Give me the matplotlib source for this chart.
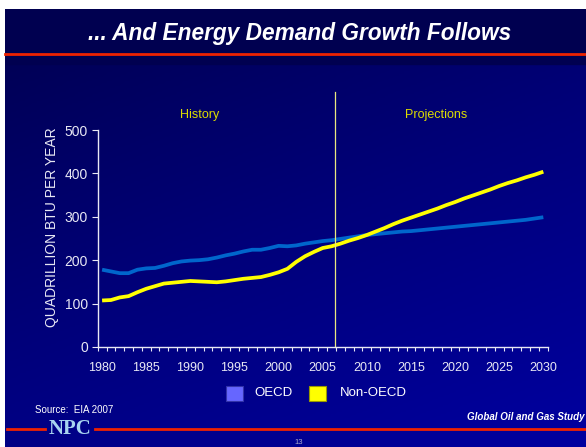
import numpy as np
import matplotlib.pyplot as plt
from matplotlib.colors import LinearSegmentedColormap
from matplotlib.patches import Rectangle

plt.rcParams['font.family'] = ['Liberation Sans', 'DejaVu Sans']

years = list(range(1980, 2031))
oecd = [178, 174, 170, 170, 178, 181, 182, 187, 193, 197,
        199, 200, 202, 206, 211, 215, 220, 224, 224, 228,
        233, 232, 234, 238, 241, 244, 246, 249, 252, 255,
        258, 260, 262, 264, 266, 267, 269, 271, 273, 275,
        277, 279, 281, 283, 285, 287, 289, 291, 293, 296,
        299]
non_oecd = [107, 108, 114, 117, 126, 134, 140, 146, 148, 150,
            152, 151, 150, 149, 151, 154, 157, 159, 161, 166,
            172, 180, 196, 209, 219, 228, 232, 238, 245, 251,
            258, 266, 274, 283, 291, 298, 305, 312, 319, 327,
            334, 342, 349, 356, 363, 371, 378, 384, 391, 397,
            404]
x_labels = [1980, 1985, 1990, 1995, 2000, 2005, 2010, 2015, 2020, 2025, 2030]
split_year = 2006.4

fig = plt.figure(figsize=(5.86, 4.47), dpi=100)
fig.patch.set_facecolor('white')

# background gradient
bg = fig.add_axes([0.009, 0, 0.991, 0.979])
bg.set_axis_off()
gx, gy = np.meshgrid(np.linspace(0, 1, 200), np.linspace(0, 1, 200))
grad = 0.65 * gy + 0.35 * gx
cmap = LinearSegmentedColormap.from_list('bg', ['#000050', '#00007a', '#0000a0'])
bg.imshow(grad, cmap=cmap, aspect='auto', extent=[0, 1, 0, 1], origin='upper')
bg.add_patch(Rectangle((0, 0.875), 1, 0.125, color='#000050', transform=bg.transAxes))
bg.set_xlim(0, 1)
bg.set_ylim(0, 1)

# red rules
fig.add_artist(plt.Line2D([0.009, 1], [0.879, 0.879], color='#ee2200', lw=2))
fig.add_artist(plt.Line2D([0.012, 0.077], [0.040, 0.040], color='#ee2200', lw=2))
fig.add_artist(plt.Line2D([0.162, 1], [0.040, 0.040], color='#ee2200', lw=2))

fig.text(0.512, 0.926, '... And Energy Demand Growth Follows', color='white',
         fontsize=16.3, fontweight='bold', fontstyle='italic', ha='center', va='center')

ax = fig.add_axes([0.1667, 0.224, 0.768, 0.485])
ax.set_facecolor('none')
ax.plot(years, oecd, color='#0066cc', lw=2.7, solid_capstyle='butt')
ax.plot(years, non_oecd, color='#ffff00', lw=2.7, solid_capstyle='butt')
ax.axvline(split_year, ymin=0, ymax=1.175, color='#e8e880', lw=0.9, clip_on=False)

ax.set_xlim(1979.5, 2030.5)
ax.set_ylim(0, 500)
ax.set_yticks([0, 100, 200, 300, 400, 500])
ax.set_xticks(x_labels)
ax.set_xticks(np.arange(1979.5, 2031, 1), minor=True)
ax.tick_params(axis='x', which='major', length=0, pad=11, labelsize=9, colors='#e8e8f4')
ax.tick_params(axis='x', which='minor', length=3, width=0.8, color='#e8e8f4', direction='out')
ax.tick_params(axis='y', length=4, width=0.8, pad=3, labelsize=10, colors='#e8e8f4')
for s in ['top', 'right']:
    ax.spines[s].set_visible(False)
for s in ['left', 'bottom']:
    ax.spines[s].set_color('#e8e8f4')
    ax.spines[s].set_linewidth(1)
ax.set_ylabel('QUADRILLION BTU PER YEAR', color='#e8e8f4', fontsize=10)
ax.yaxis.set_label_coords(-0.087, 0.55)

ax.text(0.227, 1.069, 'History', transform=ax.transAxes, color='#dcdc00',
        fontsize=9, ha='center', va='center')
ax.text(0.753, 1.069, 'Projections', transform=ax.transAxes, color='#dcdc00',
        fontsize=9, ha='center', va='center')

# legend
fig.add_artist(Rectangle((0.3857, 0.103), 0.0285, 0.0336, facecolor='#6666ff',
                         edgecolor='#3333aa', lw=0.8, transform=fig.transFigure))
fig.text(0.466, 0.121, 'OECD', color='white', fontsize=9.5, ha='center', va='center')
fig.add_artist(Rectangle((0.528, 0.103), 0.0285, 0.0336, facecolor='#ffff00',
                         edgecolor='#999900', lw=0.8, transform=fig.transFigure))
fig.text(0.580, 0.121, 'Non-OECD', color='white', fontsize=9.5, va='center')

fig.text(0.060, 0.083, 'Source:  EIA 2007', color='white', fontsize=7, va='center')
fig.text(0.998, 0.067, 'Global Oil and Gas Study', color='white', fontsize=7,
         fontweight='bold', fontstyle='italic', ha='right', va='center')
fig.text(0.119, 0.041, 'NPC', color='#a8d4f0', fontsize=15, fontweight='bold',
         family='Liberation Serif', ha='center', va='center')
fig.text(0.51, 0.011, '13', color='#aaaacc', fontsize=5.5, ha='center', va='center')

fig.savefig('out.png', dpi=100)
